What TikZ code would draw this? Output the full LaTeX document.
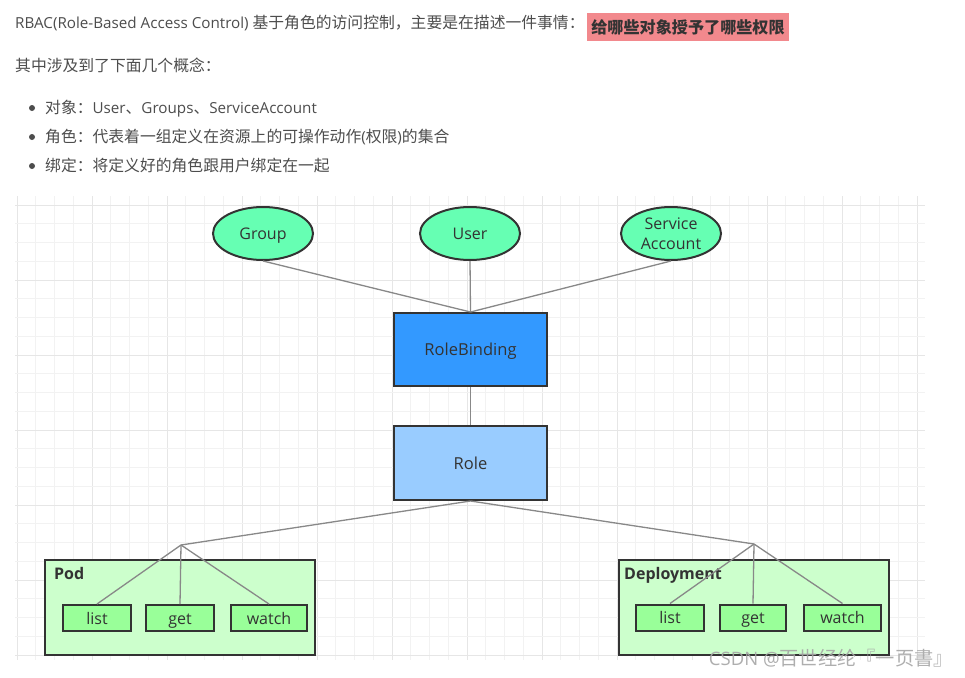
\documentclass[tikz,border=0pt]{standalone}
\usepackage{fontspec}
\setmainfont{Open Sans}
\newfontfamily\cjk[Scale=1.04]{Noto Sans CJK SC}
\usetikzlibrary{shapes.geometric}
\definecolor{bodytxt}{HTML}{4D4D4D}
\definecolor{diagtxt}{HTML}{333333}
\definecolor{hlfill}{HTML}{F2898D}
\definecolor{gridminor}{HTML}{F2F2F2}
\definecolor{gridmajor}{HTML}{E6E6E6}
\definecolor{edgegray}{HTML}{888888}
\definecolor{objfill}{HTML}{66FFB3}
\definecolor{rbfill}{HTML}{3399FF}
\definecolor{rolefill}{HTML}{99CCFF}
\definecolor{contfill}{HTML}{CCFFCC}
\definecolor{opfill}{HTML}{99FF99}
\begin{document}
\begin{tikzpicture}[x=1pt,y=-1pt,
  bodytext/.style={anchor=base west,inner sep=0pt,text=bodytxt,font=\fontsize{15.2}{19}\selectfont},
  obj/.style={ellipse,draw=diagtxt,line width=2pt,fill=objfill,minimum width=100pt,minimum height=53pt,inner sep=0pt,text=diagtxt,font=\fontsize{16}{20}\selectfont,align=center},
  bigbox/.style={rectangle,draw=diagtxt,line width=2pt,minimum width=153pt,minimum height=73pt,inner sep=0pt,text=diagtxt,font=\fontsize{16.5}{20}\selectfont,text height=16pt,text depth=4pt},
  container/.style={rectangle,draw=diagtxt,line width=2pt,fill=contfill,minimum height=95pt,inner sep=0pt},
  conttitle/.style={anchor=base west,inner sep=0pt,text=diagtxt,font=\fontsize{16}{20}\selectfont\bfseries},
  opbox/.style={rectangle,draw=diagtxt,line width=2pt,fill=opfill,minimum height=26pt,inner sep=0pt,text=diagtxt,font=\fontsize{16}{20}\selectfont,text height=16pt,text depth=4pt},
  link/.style={draw=edgegray,line width=1.3pt}
]
\useasboundingbox (0,0) rectangle (965,677);
\fill[white] (0,0) rectangle (965,677);

% grid
\foreach \i in {0,...,48}{
  \pgfmathtruncatemacro{\m}{mod(\i,4)}
  \ifnum\m=0
    \draw[gridmajor,line width=1pt] ({17+18.75*\i},196) -- ({17+18.75*\i},660);
  \else
    \draw[gridminor,line width=1pt] ({17+18.75*\i},196) -- ({17+18.75*\i},660);
  \fi
}
\foreach \j in {0,...,24}{
  \pgfmathtruncatemacro{\m}{mod(\j,4)}
  \ifnum\m=0
    \draw[gridmajor,line width=1pt] (15,{205+18.75*\j}) -- (925,{205+18.75*\j});
  \else
    \draw[gridminor,line width=1pt] (15,{205+18.75*\j}) -- (925,{205+18.75*\j});
  \fi
}

% header text
\node[bodytext] (l1) at (15,29) {RBAC(Role-Based Access Control) {\cjk 基于角色的访问控制，主要是在描述一件事情：}};
\node[fill=hlfill,minimum width=202pt,minimum height=28pt,inner sep=0pt,text=diagtxt,font=\fontsize{15.5}{19}\selectfont\cjk\bfseries] (hl) at (688,27) {给哪些对象授予了哪些权限};
\node[bodytext] (l2) at (15,71) {\cjk 其中涉及到了下面几个概念：};
\fill[bodytxt] (32,108) circle (3pt);
\fill[bodytxt] (32,137) circle (3pt);
\fill[bodytxt] (32,166) circle (3pt);
\node[bodytext] (b1) at (45,113.5) {{\cjk 对象：}User{\cjk 、}Groups{\cjk 、}ServiceAccount};
\node[bodytext] (b2) at (45,142.5) {{\cjk 角色：代表着一组定义在资源上的可操作动作}({\cjk 权限}){\cjk 的集合}};
\node[bodytext] (b3) at (45,171.5) {\cjk 绑定：将定义好的角色跟用户绑定在一起};

% containers
\node[container,minimum width=270pt] (pod) at (180,607.5) {};
\node[conttitle] (podt) at (54,579) {Pod};
\node[container,minimum width=270pt] (dep) at (754,607) {};
\node[conttitle] (dept) at (624,579) {Deployment};

% main nodes
\node[obj,text height=16pt,text depth=4pt] (group) at (263,233.5) {Group};
\node[obj,text height=16pt,text depth=4pt] (user) at (470,233.5) {User};
\node[obj,font=\fontsize{16}{19.5}\selectfont] (sa) at (671,233.5) {Service\\Account};
\node[bigbox,fill=rbfill] (rb) at (470.5,349.5) {RoleBinding};
\node[bigbox,fill=rolefill,minimum height=74pt] (role) at (470.5,463) {Role};

\coordinate (pj) at (181,545);
\coordinate (dj) at (754,544);

\node[opbox,minimum width=68pt] (plist) at (97,618) {list};
\node[opbox,minimum width=68pt] (pget) at (180,618) {get};
\node[opbox,minimum width=76pt] (pwatch) at (269,618) {watch};
\node[opbox,minimum width=68pt] (dlist) at (670,617.5) {list};
\node[opbox,minimum width=66pt] (dget) at (753,617.5) {get};
\node[opbox,minimum width=77pt] (dwatch) at (842.5,617.5) {watch};

% links
\draw[link] (group.south) -- (rb.north);
\draw[link] (user.south) -- (rb.north);
\draw[link] (sa.south) -- (rb.north);
\draw[link] (rb.south) -- (role.north);
\draw[link] (role.south) -- (pj);
\draw[link] (role.south) -- (dj);
\draw[link] (pj) -- (plist.north);
\draw[link] (pj) -- (pget.north);
\draw[link] (pj) -- (pwatch.north);
\draw[link] (dj) -- (dlist.north);
\draw[link] (dj) -- (dget.north);
\draw[link] (dj) -- (dwatch.north);

% watermark
\node[anchor=east,inner sep=0pt,text=gray!70,opacity=0.9,font=\fontsize{18.5}{22}\selectfont] (wm) at (953,658) {CSDN @{\cjk 百世经纶『一页書』}};
\end{tikzpicture}
\end{document}
